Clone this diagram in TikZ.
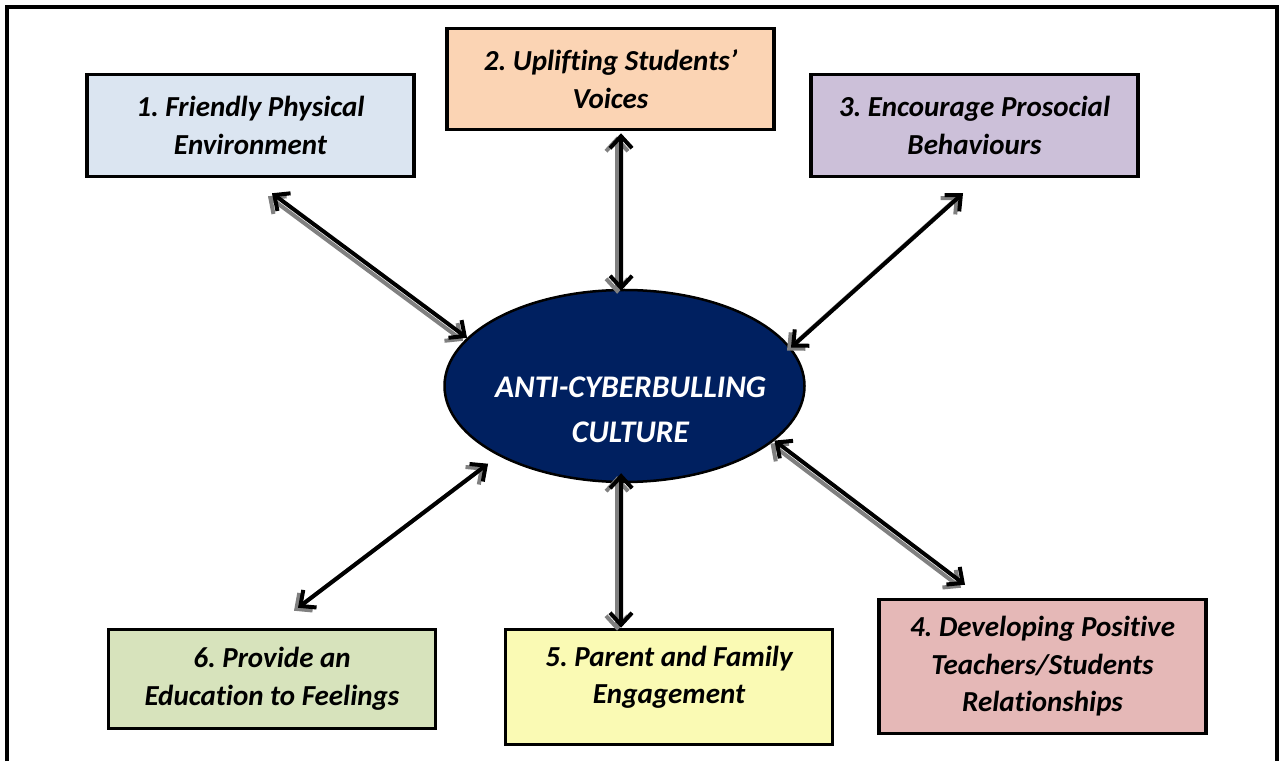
\documentclass[tikz,border=0pt]{standalone}
\usepackage{fontspec}
\setmainfont{Carlito}[Ligatures=NoCommon]
\usepackage{xcolor}
\usetikzlibrary{positioning,shapes.geometric,arrows.meta,calc}
\frenchspacing

\definecolor{boxblue}{HTML}{DBE5F1}
\definecolor{boxpeach}{HTML}{FBD4B4}
\definecolor{boxlilac}{HTML}{CCC0D9}
\definecolor{boxrose}{HTML}{E5B8B7}
\definecolor{boxlemon}{HTML}{FAFAB4}
\definecolor{boxsage}{HTML}{D7E3BC}
\definecolor{corenavy}{HTML}{002060}

\begin{document}
\begin{tikzpicture}[x=1pt,y=1pt,>={Straight Barb[length=12pt,width=22pt]},
        box/.style={rectangle,draw=black,line width=3.5pt,minimum width=327pt,
          inner sep=0pt,align=center,font=\bfseries\itshape\fontsize{29}{37.5}\selectfont},
        core/.style={ellipse,draw=black,line width=2.5pt,fill=corenavy,
          minimum width=360pt,minimum height=192pt,inner sep=0pt},
        coretext/.style={text=white,align=center,inner sep=0pt,
          font=\bfseries\itshape\fontsize{31.5}{45}\selectfont},
        link/.style={<->,line width=4pt},
        linkshadow/.style={link,draw=black!50,transform canvas={shift={(-4pt,-3pt)}}}]
      \useasboundingbox (0,0) rectangle (1281,761);
      % frame, open at the bottom
      \draw[line width=4pt] (7,0) -- (7,754) -- (1277,754) -- (1277,0);

      % centre
      \node (ell) at (624.5,375) [core] {};
      \node (ctext) at ($(ell.center)+(6,-24)$) [coretext] {ANTI-CYBERBULLING\\CULTURE};

      % the six boxes
      \node (b1) at (250.5,635.5) [box,fill=boxblue,minimum height=102pt] {1. Friendly Physical\\Environment};
      \node (b2) at (610.5,682) [box,fill=boxpeach,minimum height=101pt] {2. Uplifting Students'\\Voices};
      \node (b3) at (974.5,635.5) [box,fill=boxlilac,minimum height=102pt] {3. Encourage Prosocial\\Behaviours};
      \node (b4) at (1042.5,94.5) [box,fill=boxrose,minimum height=134pt] {4. Developing Positive\\Teachers/Students\\Relationships};
      \node (b5) at (669,74) [box,fill=boxlemon,minimum height=115pt,text depth=24pt] {5. Parent and Family\\Engagement};
      \node (b6) at (272,82) [box,fill=boxsage,minimum height=99pt] {6. Provide an\\Education to Feelings};

      % arrow ends near the boxes
      \coordinate (t1) at ($(b1.south)+(21.5,-15)$);
      \coordinate (t2) at ($(b2.south)+(10.5,-2)$);
      \coordinate (t3) at ($(b3.south)+(-11.5,-15)$);
      \coordinate (t4) at ($(b4.north)+(-77.5,13)$);
      \coordinate (t5) at ($(b5.north)+(-48,0)$);
      \coordinate (t6) at ($(b6.north)+(26,20)$);

      % double arrows with a grey shadow
      \foreach \tip/\ang/\cut in {t1/163.5/0pt,t2/92/-2pt,t3/13.9/0pt,t4/340.6/0pt,t5/268/-10pt,t6/209/13pt}{
        \draw[linkshadow,shorten >=\cut] (\tip) -- (ell.\ang);
        \draw[link,shorten >=\cut] (\tip) -- (ell.\ang);
      }
    \end{tikzpicture}
\end{document}
